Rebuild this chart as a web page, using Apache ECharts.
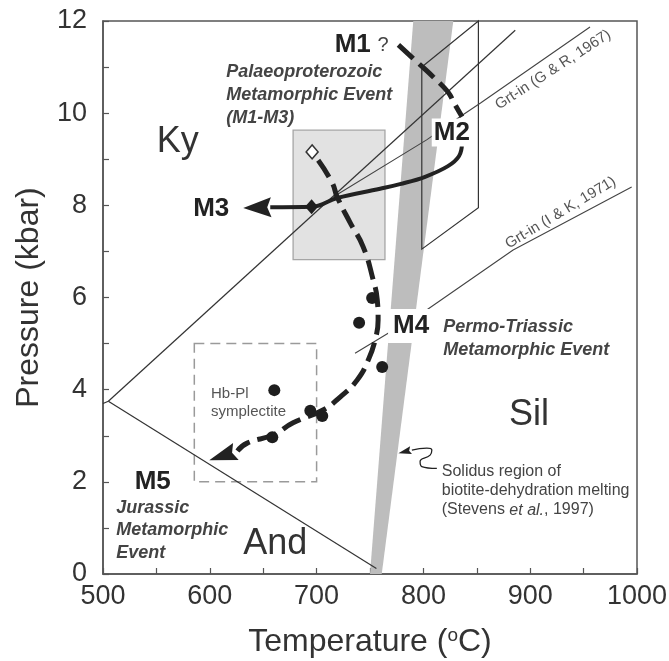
<!DOCTYPE html>
<html><head><meta charset="utf-8">
<script src="https://cdn.jsdelivr.net/npm/echarts@6/dist/echarts.min.js"></script>
<style>html,body{margin:0;padding:0;background:#fff}#c{width:669px;height:661px}</style>
</head><body><div id="c"></div>
<script>
// ---------- data: Temperature (°C), Pressure (kbar) ----------
const xTicks = [500, 600, 700, 800, 900, 1000];
const yTicks = [0, 2, 4, 6, 8, 10, 12];

const kyAnd   = [[500, 3.70], [505, 3.75]];
const andSil  = [[505, 3.75], [756, 0.12]];
const kySil   = [[505, 3.75], [886, 11.8]];
const grtInGR = [[715.5, 8.18], [803, 9.42], [836, 9.95], [853.5, 10.22], [956, 11.87]];
const grtInIK = [[736, 4.79], [803, 5.73], [884, 7.03], [995, 8.4]];

const solidusLeft  = [[750, 0], [790.5, 12]];
const solidusRight = [[761, 0], [828, 12]];

const m2Box = [[798.5, 11.0], [851.5, 12.0], [851.5, 7.95], [798.5, 7.05]];
const m3Box = [[678, 6.82], [764, 9.63]];
const hbBox = [[585.5, 2.0], [700, 5.0]];

const m1Path = [[776.6, 11.48], [795, 11.09], [809, 10.79], [823, 10.46], [829.7, 10.18], [836.2, 9.92]];
const m3Path = [[836.2, 9.35], [833.4, 9.07], [823, 8.85], [801.6, 8.62], [778, 8.46], [759.5, 8.36],
                [719.3, 8.16], [696, 7.97], [656.6, 7.96]];
const m3Tip  = [631.3, 7.94];
const m5Path = [[701.5, 8.98], [714.6, 8.49], [719.3, 8.18], [731.5, 7.62], [743.6, 7.10], [753, 6.38],
                [756.8, 5.95], [757.6, 5.51], [754.8, 5.08], [748.3, 4.64], [738, 4.21], [722, 3.84],
                [706, 3.56], [678, 3.28], [659.5, 3.02], [635, 2.84], [625.9, 2.67]];
const m5Tip  = [599.5, 2.47];

const dots = [[752, 5.99], [739.8, 5.45], [761.4, 4.49], [660.4, 3.99], [694.1, 3.54], [705.3, 3.43], [658.5, 2.97]];
const filledDiamond = [[695.3, 7.97]];
const openDiamond   = [[695.8, 9.16]];

const pointerPath = [[812.6, 2.29], [798.5, 2.33], [796.9, 2.44], [806.3, 2.58], [807.9, 2.69], [803.2, 2.73], [789.2, 2.69]];
const pointerTip  = [776.6, 2.62];

// ---------- text annotations ----------
const FF = 'Liberation Sans';
const notes = [
  {t: 'M1', at: [733.8, 11.48], s: 26, w: 'bold', c: '#222', a: 'center'},
  {t: '?', at: [762.3, 11.46], s: 20, c: '#444', a: 'center'},
  {t: 'M2', at: [826.6, 9.58], s: 26, w: 'bold', c: '#222', a: 'center', bg: '#fff', pad: [1, 2]},
  {t: 'M3', at: [601.3, 7.92], s: 26, w: 'bold', c: '#222', a: 'center'},
  {t: 'M4', at: [788.5, 5.38], s: 26, w: 'bold', c: '#222', a: 'center', bg: '#fff', pad: [4, 5]},
  {t: 'M5', at: [546.6, 1.99], s: 26, w: 'bold', c: '#222', a: 'center'},
  {t: 'Ky', at: [569.9, 9.37], s: 36, c: '#333', a: 'center'},
  {t: 'Sil', at: [898.9, 3.45], s: 36, c: '#333', a: 'center'},
  {t: 'And', at: [661.2, 0.65], s: 36, c: '#333', a: 'center'},
  {t: 'Palaeoproterozoic\nMetamorphic Event\n(M1-M3)', at: [615.4, 10.39], s: 18, w: 'bold', it: true, c: '#444', a: 'left', lh: 23},
  {t: 'Permo-Triassic\nMetamorphic Event', at: [818.5, 5.11], s: 18, w: 'bold', it: true, c: '#444', a: 'left', lh: 23},
  {t: 'Jurassic\nMetamorphic\nEvent', at: [512.4, 0.944], s: 18, w: 'bold', it: true, c: '#444', a: 'left', lh: 22.5},
  {t: 'Solidus region of\nbiotite-dehydration melting\n(Stevens {i|et al.}, 1997)', at: [817.2, 1.80], s: 16, c: '#444', a: 'left', lh: 19, rich: true},
  {t: 'Hb-Pl\nsymplectite', at: [601.1, 3.71], s: 15, c: '#555', a: 'left', lh: 18},
  {t: 'Grt-in (G & R, 1967)', at: [921.4, 10.94], s: 15, c: '#555', a: 'center', rot: 33},
  {t: 'Grt-in (I & K, 1971)', at: [928.5, 7.84], s: 15, c: '#555', a: 'center', rot: 31}
];

// ---------- helpers ----------
function shapeSeries(z, build) {
  return {type: 'custom', coordinateSystem: 'cartesian2d', z: z, silent: true, clip: false,
    data: [[750, 6]], renderItem: (params, api) => build(api)};
}
function lineSeries(data, z, ls, smooth) {
  return {type: 'line', data: data, z: z, showSymbol: false, symbol: 'none', silent: true,
    smooth: smooth || false, lineStyle: ls, emphasis: {disabled: true}};
}
function arrowSeries(tip, from, len, halfW, notch, z) {
  return {type: 'custom', coordinateSystem: 'cartesian2d', z: z, silent: true, clip: false,
    data: [[tip[0], tip[1], from[0], from[1]]],
    renderItem: (params, api) => {
      const t = api.coord([api.value(0), api.value(1)]);
      const f = api.coord([api.value(2), api.value(3)]);
      let dx = t[0] - f[0], dy = t[1] - f[1];
      const d = Math.hypot(dx, dy); dx /= d; dy /= d;
      const bx = t[0] - dx * len, by = t[1] - dy * len;
      const nx = -dy, ny = dx;
      return {type: 'polygon', shape: {points: [t, [bx + nx * halfW, by + ny * halfW],
        [t[0] - dx * (len - notch), t[1] - dy * (len - notch)], [bx - nx * halfW, by - ny * halfW]]},
        style: {fill: '#222', stroke: null}};
    }};
}

const chart = echarts.init(document.getElementById('c'), null, {renderer: 'canvas'});
const axisCommon = {
  axisLine: {show: true, lineStyle: {color: '#555', width: 1.5}},
  axisTick: {show: true, inside: true, length: 6, lineStyle: {color: '#555', width: 1.2}},
  splitLine: {show: false}
};

chart.setOption({
  animation: false,
  backgroundColor: '#fff',
  grid: {left: 103, top: 21, width: 534, height: 553, outerBoundsMode: 'none', containLabel: false,
    show: true, borderColor: '#555', borderWidth: 1.5, backgroundColor: 'transparent'},
  xAxis: Object.assign({type: 'value', min: 500, max: 1000, interval: 50,
    axisLabel: {margin: 9, fontSize: 27, color: '#333', fontFamily: FF,
      formatter: v => xTicks.indexOf(v) >= 0 ? String(v) : ''},
    name: 'Temperature ({sup|o}C)', nameLocation: 'middle', nameGap: 52,
    nameTextStyle: {fontSize: 32, color: '#333', fontFamily: FF,
      rich: {sup: {fontSize: 19, color: '#333', fontFamily: FF, verticalAlign: 'top', lineHeight: 32}}}
  }, axisCommon),
  yAxis: Object.assign({type: 'value', min: 0, max: 12, interval: 1,
    axisLabel: {margin: 16, fontSize: 27, color: '#333', fontFamily: FF,
      formatter: v => yTicks.indexOf(v) >= 0 ? String(v) : ''},
    name: 'Pressure (kbar)', nameLocation: 'middle', nameGap: 58, nameRotate: 90,
    nameTextStyle: {fontSize: 32, color: '#333', fontFamily: FF}
  }, axisCommon),
  series: [
    // solidus band
    shapeSeries(1, api => ({type: 'polygon',
      shape: {points: [solidusLeft[0], solidusRight[0], solidusRight[1], solidusLeft[1]].map(p => api.coord(p))},
      style: {fill: '#bdbdbd', stroke: null}})),
    // M3 light box
    shapeSeries(1, api => {
      const a = api.coord([m3Box[0][0], m3Box[1][1]]), b = api.coord([m3Box[1][0], m3Box[0][1]]);
      return {type: 'rect', shape: {x: a[0], y: a[1], width: b[0] - a[0], height: b[1] - a[1]},
        style: {fill: '#e2e2e2', stroke: '#a5a5a5', lineWidth: 1.3}};
    }),
    // Hb-Pl dashed box
    shapeSeries(2, api => {
      const a = api.coord([hbBox[0][0], hbBox[1][1]]), b = api.coord([hbBox[1][0], hbBox[0][1]]);
      return {type: 'rect', shape: {x: a[0], y: a[1], width: b[0] - a[0], height: b[1] - a[1]},
        style: {fill: null, stroke: '#9a9a9a', lineWidth: 1.5, lineDash: [10, 6]}};
    }),
    // M2 parallelogram
    shapeSeries(3, api => ({type: 'polygon', shape: {points: m2Box.map(p => api.coord(p))},
      style: {fill: null, stroke: '#333', lineWidth: 1.2}})),
    // reaction lines
    lineSeries(kyAnd, 3, {color: '#333', width: 1.2}),
    lineSeries(andSil, 3, {color: '#333', width: 1.2}),
    lineSeries(kySil, 3, {color: '#333', width: 1.2}),
    lineSeries(grtInGR, 3, {color: '#444', width: 1.1}),
    lineSeries(grtInIK, 3, {color: '#444', width: 1.1}),
    // P-T paths
    lineSeries(m1Path, 4, {color: '#222', width: 5, type: [20, 8], cap: 'butt'}, 0.4),
    lineSeries(m3Path, 4, {color: '#222', width: 4, cap: 'butt'}, 0.4),
    lineSeries(m5Path, 4, {color: '#222', width: 5, type: [20, 8], cap: 'butt'}, 0.5),
    arrowSeries(m3Tip, m3Path[m3Path.length - 1], 28, 10, 4, 4),
    arrowSeries(m5Tip, m5Path[m5Path.length - 1], 28, 9, 4, 4),
    // pointer to solidus band
    lineSeries(pointerPath, 4, {color: '#222', width: 1.3}, 0.5),
    arrowSeries(pointerTip, pointerPath[pointerPath.length - 1], 13, 4, 2, 4),
    // points
    {type: 'scatter', data: dots, z: 5, silent: true, symbol: 'circle', symbolSize: 12,
      itemStyle: {color: '#1e1e1e', opacity: 1}},
    {type: 'scatter', data: filledDiamond, z: 5, silent: true, symbol: 'diamond', symbolSize: [13, 15],
      itemStyle: {color: '#1e1e1e', opacity: 1}},
    {type: 'scatter', data: openDiamond, z: 5, silent: true, symbol: 'diamond', symbolSize: [12, 14],
      itemStyle: {color: '#fff', borderColor: '#333', borderWidth: 1.5, opacity: 1}},
    // texts
    {type: 'custom', coordinateSystem: 'cartesian2d', z: 6, silent: true, clip: false,
      data: notes.map(n => n.at),
      renderItem: (params, api) => {
        const n = notes[params.dataIndex];
        const p = api.coord([api.value(0), api.value(1)]);
        const style = {text: n.t, fill: n.c, fontSize: n.s, fontFamily: FF,
          fontWeight: n.w || 'normal', fontStyle: n.it ? 'italic' : 'normal',
          align: n.a, textAlign: n.a, verticalAlign: 'middle', textVerticalAlign: 'middle'};
        if (n.lh) style.lineHeight = n.lh;
        if (n.bg) { style.backgroundColor = n.bg; style.padding = n.pad; }
        if (n.rich) style.rich = {i: {fontStyle: 'italic', fontSize: n.s, fontFamily: FF, fill: n.c, lineHeight: n.lh}};
        return {type: 'text', x: p[0], y: p[1], rotation: (n.rot || 0) * Math.PI / 180, style: style};
      }}
  ]
});
</script>
</body></html>
